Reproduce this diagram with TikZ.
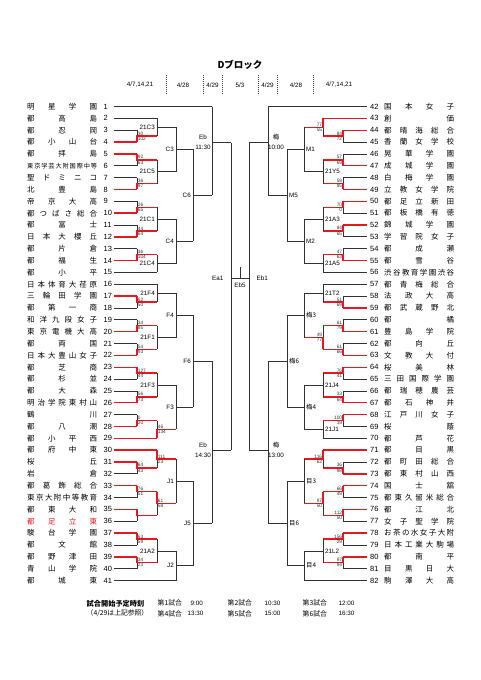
\documentclass[tikz,border=0pt]{standalone}
\usepackage{fontspec}
\setmainfont{Liberation Sans}
\newfontfamily\jp{Noto Sans CJK JP}
\definecolor{wr}{RGB}{232,22,30}
\definecolor{gl}{RGB}{50,50,50}
\def\spr#1{\sprA#1\endspr}
\def\sprA#1#2\endspr{#1\if\relax\detokenize{#2}\relax\else\hfill\sprA#2\endspr\fi}
\tikzset{
 ln/.style={draw=gl, line width=0.75pt},
 win/.style={draw=wr, line width=1.4pt},
 num/.style={font=\fontsize{7.5}{8}\selectfont, inner sep=1pt},
 nm/.style={font=\jp\fontsize{7.5}{8}\selectfont, inner sep=0pt},
 sc/.style={font=\fontsize{4.8}{5}\selectfont, inner sep=0.7pt, text=black!80},
 lb/.style={font=\fontsize{6.3}{7}\selectfont, inner sep=0.5pt},
 dt/.style={font=\fontsize{6.3}{7}\selectfont, inner sep=0.5pt},
 ft/.style={font=\jp\fontsize{6.8}{7}\selectfont, inner sep=0.5pt, anchor=west},
 sep/.style={draw=black!75, line width=0.9pt, dash pattern=on 1.2pt off 0.8pt},
}
\newcounter{mc}
\newcommand\LT[5][]{%
 \node[num,anchor=west] (n#2) at (102.5,{106.5+(#2-1)*11.85}) {#2};
 \node[nm,anchor=west,#1] (m#2) at (27,{106.5+(#2-1)*11.85}) {\makebox[70pt][s]{\spr{#3}}};
 \coordinate (s#2) at (114,{106.5+(#2-1)*11.85});
 \coordinate (e#2) at (#4,{106.5+(#2-1)*11.85});
 \draw[#5] (s#2) -- (e#2);
}
\newcommand\RT[5][]{%
 \node[num,anchor=west] (n#2) at (369,{106.5+(#2-42)*11.85}) {#2};
 \node[nm,anchor=west,#1] (m#2) at (384,{106.5+(#2-42)*11.85}) {\makebox[70pt][s]{\spr{#3}}};
 \coordinate (s#2) at (366.5,{106.5+(#2-42)*11.85});
 \coordinate (e#2) at (#4,{106.5+(#2-42)*11.85});
 \draw[#5] (s#2) -- (e#2);
}
\newcommand\Mt[9]{%
 \stepcounter{mc}%
 \pgfmathsetmacro\yo{(#3+#4)/2}%
 \coordinate (a\themc) at (#2,#3);
 \coordinate (b\themc) at (#2,#4);
 \coordinate (o\themc) at (#2,\yo);
 \coordinate (p\themc) at (#5,\yo);
 \draw[ln] (a\themc) -- (b\themc);
 \if a#6\draw[win] (a\themc) -- (o\themc) -- (p\themc);\else
  \if b#6\draw[win] (b\themc) -- (o\themc) -- (p\themc);\else
   \draw[ln] (o\themc) -- (p\themc);\fi\fi
 \if L#1%
  \node[sc,anchor=south west] (q\themc) at (o\themc) {#7};
  \node[sc,anchor=north west] (t\themc) at (o\themc) {#8};
  \node[lb,anchor=east] (l\themc) at ([xshift=-1.5pt]o\themc) {#9};
 \else
  \node[sc,anchor=south east] (q\themc) at (o\themc) {#7};
  \node[sc,anchor=north east] (t\themc) at (o\themc) {#8};
  \node[lb,anchor=west] (l\themc) at ([xshift=1.5pt]o\themc) {#9};
 \fi
}
\begin{document}
\begin{tikzpicture}[x=1pt,y=-1pt]
\useasboundingbox (0,0) rectangle (481,680);
\fill[white] (0,0) rectangle (481,680);
% header
\node[font=\jp\bfseries\fontsize{9.5}{10}\selectfont] (title) at (240,65) {Dブロック};
\node[dt] (d1) at (140,85) {4/7,14,21};
\node[dt] (d2) at (183,85) {4/28};
\node[dt] (d3) at (212.5,85) {4/29};
\node[dt] (d4) at (240,85) {5/3};
\node[dt] (d5) at (267.5,85) {4/29};
\node[dt] (d6) at (296,85) {4/28};
\node[dt] (d7) at (339,85) {4/7,14,21};
\foreach \sx in {166,203,222,258,277,313} \draw[sep] (\sx,75) -- (\sx,95);
% left teams
\LT{1}{明星学園}{212}{ln}
\LT{2}{都高島}{157}{ln}
\LT{3}{都忍岡}{137}{ln}
\LT{4}{都小山台}{137}{win}
\LT{5}{都拝島}{137}{win}
\LT[font=\jp\fontsize{6.2}{7}\selectfont]{6}{東京学芸大附国際中等}{137}{ln}
\LT{7}{聖ドミニコ}{137}{ln}
\LT{8}{北豊島}{137}{win}
\LT{9}{帝京大高}{137}{ln}
\LT{10}{都つばさ総合}{137}{win}
\LT{11}{都富士}{137}{ln}
\LT{12}{日本大櫻丘}{137}{win}
\LT{13}{都片倉}{137}{ln}
\LT{14}{都福生}{137}{win}
\LT{15}{都小平}{157}{ln}
\LT{16}{日本体育大荏原}{157}{ln}
\LT{17}{三輪田学園}{137}{win}
\LT{18}{都第一商}{137}{ln}
\LT{19}{和洋九段女子}{137}{ln}
\LT{20}{東京電機大高}{137}{win}
\LT{21}{都両国}{137}{ln}
\LT{22}{日本大豊山女子}{137}{win}
\LT{23}{都芝商}{137}{win}
\LT{24}{都杉並}{137}{ln}
\LT{25}{都大森}{137}{ln}
\LT{26}{明治学院東村山}{137}{win}
\LT{27}{鶴川}{137}{ln}
\LT{28}{都八潮}{137}{win}
\LT{29}{都小平西}{157}{win}
\LT{30}{都府中東}{157}{win}
\LT{31}{桜丘}{137}{win}
\LT{32}{岩倉}{137}{ln}
\LT{33}{都葛飾総合}{137}{win}
\LT{34}{東京大附中等教育}{137}{ln}
\LT{35}{都東大和}{137}{win}
\LT[text=wr]{36}{都足立東}{137}{ln}
\LT{37}{駿台学園}{137}{win}
\LT{38}{都文館}{137}{ln}
\LT{39}{都野津田}{137}{win}
\LT{40}{青山学院}{137}{ln}
\LT{41}{都城東}{176}{ln}
% right teams
\RT{42}{国本女子}{268}{ln}
\RT{43}{創価}{323}{win}
\RT{44}{都晴海総合}{343}{win}
\RT{45}{香蘭女学校}{343}{ln}
\RT{46}{晃華学園}{343}{ln}
\RT{47}{成城学園}{343}{win}
\RT{48}{白梅学園}{343}{ln}
\RT{49}{立教女学院}{343}{win}
\RT{50}{都足立新田}{343}{win}
\RT{51}{都板橋有徳}{343}{ln}
\RT{52}{錦城学園}{343}{win}
\RT{53}{学習院女子}{343}{ln}
\RT{54}{都成瀬}{343}{ln}
\RT{55}{都雪谷}{343}{win}
\RT{56}{渋谷教育学園渋谷}{323}{ln}
\RT{57}{都青梅総合}{323}{ln}
\RT{58}{法政大高}{343}{ln}
\RT{59}{都武蔵野北}{343}{win}
\RT{60}{都橘}{343}{ln}
\RT{61}{豊島学院}{343}{win}
\RT{62}{都向丘}{343}{ln}
\RT{63}{文教大付}{343}{win}
\RT{64}{桜美林}{343}{win}
\RT{65}{三田国際学園}{343}{ln}
\RT{66}{都瑞穂農芸}{343}{ln}
\RT{67}{都石神井}{343}{win}
\RT{68}{江戸川女子}{343}{win}
\RT{69}{桜蔭}{343}{ln}
\RT{70}{都芦花}{323}{ln}
\RT{71}{都目黒}{323}{win}
\RT{72}{都町田総合}{343}{ln}
\RT{73}{都東村山西}{343}{win}
\RT{74}{国士舘}{343}{win}
\RT{75}{都東久留米総合}{343}{ln}
\RT{76}{都江北}{343}{win}
\RT{77}{女子聖学院}{343}{ln}
\RT{78}{お茶の水女子大附}{343}{win}
\RT{79}{日本工業大駒場}{343}{ln}
\RT{80}{都南平}{343}{win}
\RT{81}{目黒日大}{343}{ln}
\RT{82}{駒澤大高}{304}{ln}
% left round 1
\Mt{L}{137}{130.20}{142.05}{157}{b}{30}{102}{}
\Mt{L}{137}{153.90}{165.75}{157}{a}{92}{63}{}
\Mt{L}{137}{177.60}{189.45}{157}{b}{36}{97}{}
\Mt{L}{137}{201.30}{213.15}{157}{b}{26}{65}{}
\Mt{L}{137}{225.00}{236.85}{157}{b}{44}{64}{}
\Mt{L}{137}{248.70}{260.55}{157}{b}{36}{104}{}
\Mt{L}{137}{296.10}{307.95}{157}{a}{62}{50}{}
\Mt{L}{137}{319.80}{331.65}{157}{b}{34}{85}{}
\Mt{L}{137}{343.50}{355.35}{157}{b}{54}{93}{}
\Mt{L}{137}{367.20}{379.05}{157}{a}{127}{44}{}
\Mt{L}{137}{390.90}{402.75}{157}{b}{56}{73}{}
\Mt{L}{137}{414.60}{426.45}{157}{b}{0}{20}{}
\Mt{L}{137}{462.00}{473.85}{157}{a}{64}{43}{}
\Mt{L}{137}{485.70}{497.55}{157}{a}{76}{51}{}
\Mt{L}{137}{509.40}{521.25}{157}{a}{}{}{}
\Mt{L}{137}{533.10}{544.95}{157}{a}{63}{59}{}
\Mt{L}{137}{556.80}{568.65}{157}{a}{34}{23}{}
% left round 2
\Mt{L}{157}{118.35}{136.125}{176}{n}{}{}{21C3}
\Mt{L}{157}{159.825}{183.525}{176}{n}{}{}{21C5}
\Mt{L}{157}{207.225}{230.925}{176}{n}{}{}{21C1}
\Mt{L}{157}{254.625}{272.40}{176}{n}{}{}{21C4}
\Mt{L}{157}{284.25}{302.025}{176}{n}{}{}{21F4}
\Mt{L}{157}{325.725}{349.425}{176}{n}{}{}{21F1}
\Mt{L}{157}{373.125}{396.825}{176}{n}{}{}{21F3}
\Mt{L}{157}{420.525}{438.30}{176}{b}{46}{134}{}
\Mt{L}{157}{450.15}{467.925}{176}{a}{111}{23}{}
\Mt{L}{157}{491.625}{515.325}{176}{a}{61}{58}{}
\Mt{L}{157}{539.025}{562.725}{176}{n}{}{}{21A2}
% left round 3
\Mt{L}{176}{127.24}{171.68}{193}{n}{}{}{C3}
\Mt{L}{176}{219.08}{263.51}{193}{n}{}{}{C4}
\Mt{L}{176}{293.14}{337.58}{193}{n}{}{}{F4}
\Mt{L}{176}{384.98}{429.41}{193}{n}{}{}{F3}
\Mt{L}{176}{459.04}{503.48}{193}{n}{}{}{J1}
\Mt{L}{176}{550.88}{580.50}{193}{n}{}{}{J2}
% left round 4
\Mt{L}{193}{149.46}{241.29}{212}{n}{}{}{C6}
\Mt{L}{193}{315.36}{407.19}{212}{n}{}{}{F6}
\Mt{L}{193}{481.26}{565.69}{212}{n}{}{}{J5}
% right round 1
\Mt{R}{343}{130.20}{142.05}{323}{a}{84}{72}{}
\Mt{R}{343}{153.90}{165.75}{323}{b}{57}{69}{}
\Mt{R}{343}{177.60}{189.45}{323}{b}{59}{95}{}
\Mt{R}{343}{201.30}{213.15}{323}{a}{70}{0}{}
\Mt{R}{343}{225.00}{236.85}{323}{a}{84}{65}{}
\Mt{R}{343}{248.70}{260.55}{323}{b}{47}{63}{}
\Mt{R}{343}{296.10}{307.95}{323}{b}{51}{69}{}
\Mt{R}{343}{319.80}{331.65}{323}{b}{61}{79}{}
\Mt{R}{343}{343.50}{355.35}{323}{b}{61}{66}{}
\Mt{R}{343}{367.20}{379.05}{323}{a}{76}{41}{}
\Mt{R}{343}{390.90}{402.75}{323}{b}{33}{64}{}
\Mt{R}{343}{414.60}{426.45}{323}{a}{100}{19}{}
\Mt{R}{343}{462.00}{473.85}{323}{b}{36}{98}{}
\Mt{R}{343}{485.70}{497.55}{323}{a}{66}{49}{}
\Mt{R}{343}{509.40}{521.25}{323}{a}{112}{50}{}
\Mt{R}{343}{533.10}{544.95}{323}{a}{156}{29}{}
\Mt{R}{343}{556.80}{568.65}{323}{a}{97}{94}{}
% right round 2
\Mt{R}{323}{118.35}{136.125}{304}{a}{77}{55}{}
\Mt{R}{323}{159.825}{183.525}{304}{n}{}{}{21Y5}
\Mt{R}{323}{207.225}{230.925}{304}{n}{}{}{21A3}
\Mt{R}{323}{254.625}{272.40}{304}{n}{}{}{21A5}
\Mt{R}{323}{284.25}{302.025}{304}{n}{}{}{21T2}
\Mt{R}{323}{325.725}{349.425}{304}{b}{49}{77}{}
\Mt{R}{323}{373.125}{396.825}{304}{n}{}{}{21J4}
\Mt{R}{323}{420.525}{438.30}{304}{n}{}{}{21J1}
\Mt{R}{323}{450.15}{467.925}{304}{a}{116}{62}{}
\Mt{R}{323}{491.625}{515.325}{304}{a}{97}{50}{}
\Mt{R}{323}{539.025}{562.725}{304}{n}{}{}{21L2}
% right round 3
\Mt{R}{304}{127.24}{171.68}{287}{n}{}{}{M1}
\Mt{R}{304}{219.08}{263.51}{287}{n}{}{}{M2}
\Mt{R}{304}{293.14}{337.58}{287}{n}{}{}{{\jp 梅3}}
\Mt{R}{304}{384.98}{429.41}{287}{n}{}{}{{\jp 梅4}}
\Mt{R}{304}{459.04}{503.48}{287}{n}{}{}{{\jp 目3}}
\Mt{R}{304}{550.88}{580.50}{287}{n}{}{}{{\jp 目4}}
% right round 4
\Mt{R}{287}{149.46}{241.29}{268}{n}{}{}{M5}
\Mt{R}{287}{315.36}{407.19}{268}{n}{}{}{{\jp 梅6}}
\Mt{R}{287}{481.26}{565.69}{268}{n}{}{}{{\jp 目6}}
% left semifinal brackets
\coordinate (EbT2) at (212,195.375);
\coordinate (EbTo) at (212,142.5);
\coordinate (EaT) at (231,142.5);
\draw[ln] (e1) -- (EbT2);
\draw[ln] (EbTo) -- (EaT);
\coordinate (EbB1) at (212,361.275);
\coordinate (EbB2) at (212,523.47);
\coordinate (EbBo) at (212,450);
\coordinate (EaB) at (231,450);
\draw[ln] (EbB1) -- (EbB2);
\draw[ln] (EbBo) -- (EaB);
\draw[ln] (EaT) -- (EaB);
\node[lb] (ebl1) at (203,137) {Eb};
\node[lb] (ebl2) at (203,147.5) {11:30};
\node[lb] (ebl3) at (203,445) {Eb};
\node[lb] (ebl4) at (203,455.5) {14:30};
% right semifinal brackets
\coordinate (UmT2) at (268,195.375);
\coordinate (UmTo) at (268,142.5);
\coordinate (EbrT) at (249,142.5);
\draw[ln] (e42) -- (UmT2);
\draw[ln] (UmTo) -- (EbrT);
\coordinate (UmB1) at (268,361.275);
\coordinate (UmB2) at (268,523.47);
\coordinate (UmBo) at (268,450);
\coordinate (EbrB) at (249,450);
\draw[ln] (UmB1) -- (UmB2);
\draw[ln] (UmBo) -- (EbrB);
\draw[ln] (EbrT) -- (EbrB);
\node[lb,font=\jp\fontsize{6.3}{7}\selectfont] (uml1) at (276,137) {梅};
\node[lb] (uml2) at (276,147.5) {10:00};
\node[lb,font=\jp\fontsize{6.3}{7}\selectfont] (uml3) at (276,445) {梅};
\node[lb] (uml4) at (276,455.5) {13:00};
% final
\coordinate (EaO) at (231,278);
\coordinate (EbO) at (249,278);
\coordinate (Fin) at (240,278);
\coordinate (FinT) at (240,267);
\draw[ln] (EaO) -- (EbO);
\draw[ln] (Fin) -- (FinT);
\node[lb,anchor=east] (ea1) at (224,278) {Ea1};
\node[lb,anchor=west] (eb1) at (256,278) {Eb1};
\node[lb] (eb5) at (240,285) {Eb5};
% footer
\node[ft,font=\jp\bfseries\fontsize{7.2}{8}\selectfont] (f0) at (86,603.3) {試合開始予定時刻};
\node[ft] (f1) at (86,613.5) {（4/29は上記参照）};
\node[ft] (g1) at (157,603.3) {第1試合};
\node[ft] (g2) at (227,603.3) {第2試合};
\node[ft] (g3) at (302,603.3) {第3試合};
\node[ft] (g4) at (157,613.5) {第4試合};
\node[ft] (g5) at (227,613.5) {第5試合};
\node[ft] (g6) at (302,613.5) {第6試合};
\node[dt,anchor=west] (h1) at (190,603.3) {9:00};
\node[dt,anchor=west] (h2) at (264,603.3) {10:30};
\node[dt,anchor=west] (h3) at (338,603.3) {12:00};
\node[dt,anchor=west] (h4) at (187,613.5) {13:30};
\node[dt,anchor=west] (h5) at (264,613.5) {15:00};
\node[dt,anchor=west] (h6) at (338,613.5) {16:30};
\end{tikzpicture}
\end{document}
